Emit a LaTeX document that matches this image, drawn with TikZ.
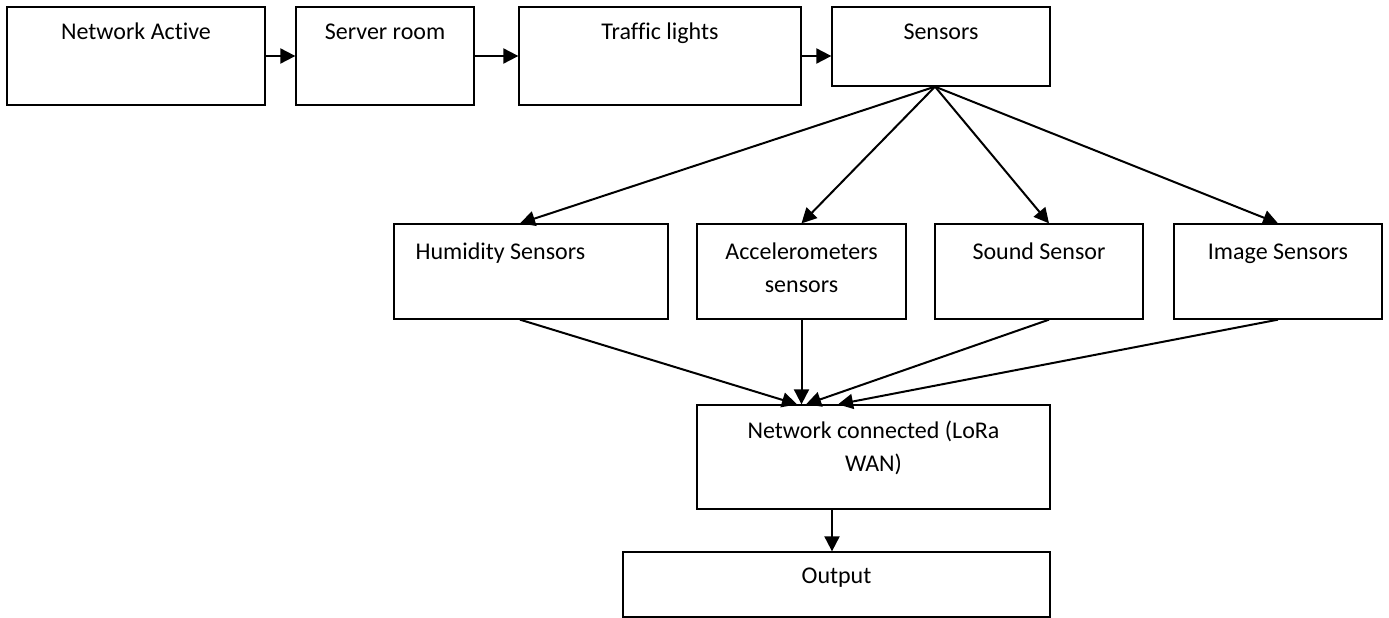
\documentclass[tikz,border=0pt]{standalone}
\usepackage{fontspec}
\setmainfont[Ligatures=NoCommon]{Carlito}
\usetikzlibrary{arrows.meta,calc}
\tikzset{
  box/.style={draw=black, line width=1.3pt, rectangle, inner sep=0pt},
  lbl/.style={font=\fontsize{24}{33}\selectfont, inner sep=0pt, anchor=base, align=center},
  arr/.style={draw=black, line width=2pt, -{Triangle[length=15pt,width=15pt]}},
}
\begin{document}
\begin{tikzpicture}[x=1pt, y=-1pt]
\useasboundingbox (0,0) rectangle (1389,618);

% top row
\node[box, minimum width=258pt, minimum height=98pt] (na) at (136,56) {};
\node[box, minimum width=178pt, minimum height=98pt] (sr) at (385,56) {};
\node[box, minimum width=282pt, minimum height=98pt] (tl) at (660,56) {};
\node[box, minimum width=218pt, minimum height=79pt] (se) at (941,46.5) {};

% sensor row
\node[box, minimum width=274pt, minimum height=95pt] (hu) at (531,271.5) {};
\node[box, minimum width=209pt, minimum height=95pt] (ac) at (801.5,271.5) {};
\node[box, minimum width=208pt, minimum height=95pt] (so) at (1039,271.5) {};
\node[box, minimum width=208pt, minimum height=95pt] (im) at (1278,271.5) {};

% bottom
\node[box, minimum width=353pt, minimum height=104pt] (nc) at (873.5,457) {};
\node[box, minimum width=427pt, minimum height=65pt] (out) at (836.5,584.5) {};

% labels (base anchor of a two-line label sits on its last line)
\node[lbl] (na-t) at ($(na.north)+(0,33)$) {Network Active};
\node[lbl] (sr-t) at ($(sr.north)+(0,33)$) {Server room};
\node[lbl] (tl-t) at ($(tl.north)+(0,33)$) {Traffic lights};
\node[lbl] (se-t) at ($(se.north)+(0,33)$) {Sensors};
\node[lbl, anchor=base west] (hu-t) at ($(hu.north west)+(22,36)$) {Humidity Sensors};
\node[lbl] (ac-t) at ($(ac.north)+(0,69)$) {Accelerometers\\sensors};
\node[lbl] (so-t) at ($(so.north)+(0,36)$) {Sound Sensor};
\node[lbl] (im-t) at ($(im.north)+(0,36)$) {Image Sensors};
\node[lbl] (nc-t) at ($(nc.north)+(0,67)$) {Network connected (LoRa\\WAN)};
\node[lbl] (out-t) at ($(out.north)+(0,32)$) {Output};

% chain along the top
\draw[arr] (na.east) -- (sr.west);
\draw[arr] (sr.east) -- (tl.west);
\draw[arr] (tl.east) -- (tl.east -| se.west);

% fan out to the sensor types
\coordinate (fan) at ([xshift=-6pt]se.south);
\draw[arr] (fan) -- ([xshift=-11pt]hu.north);
\draw[arr] (fan) -- (ac.north);
\draw[arr] (fan) -- ([xshift=10pt]so.north);
\draw[arr] (fan) -- (im.north);

% gather into the network
\draw[arr] ([xshift=-11pt]hu.south) -- ([xshift=-76.5pt]nc.north);
\draw[arr] (ac.south) -- (ac.south |- nc.north);
\draw[arr] ([xshift=10pt]so.south) -- ([xshift=-67.5pt]nc.north);
\draw[arr] (im.south) -- ([xshift=-35.5pt]nc.north);

% to output
\draw[arr] ([xshift=-41.5pt]nc.south) -- ([xshift=-41.5pt]nc.south |- out.north);
\end{tikzpicture}
\end{document}
